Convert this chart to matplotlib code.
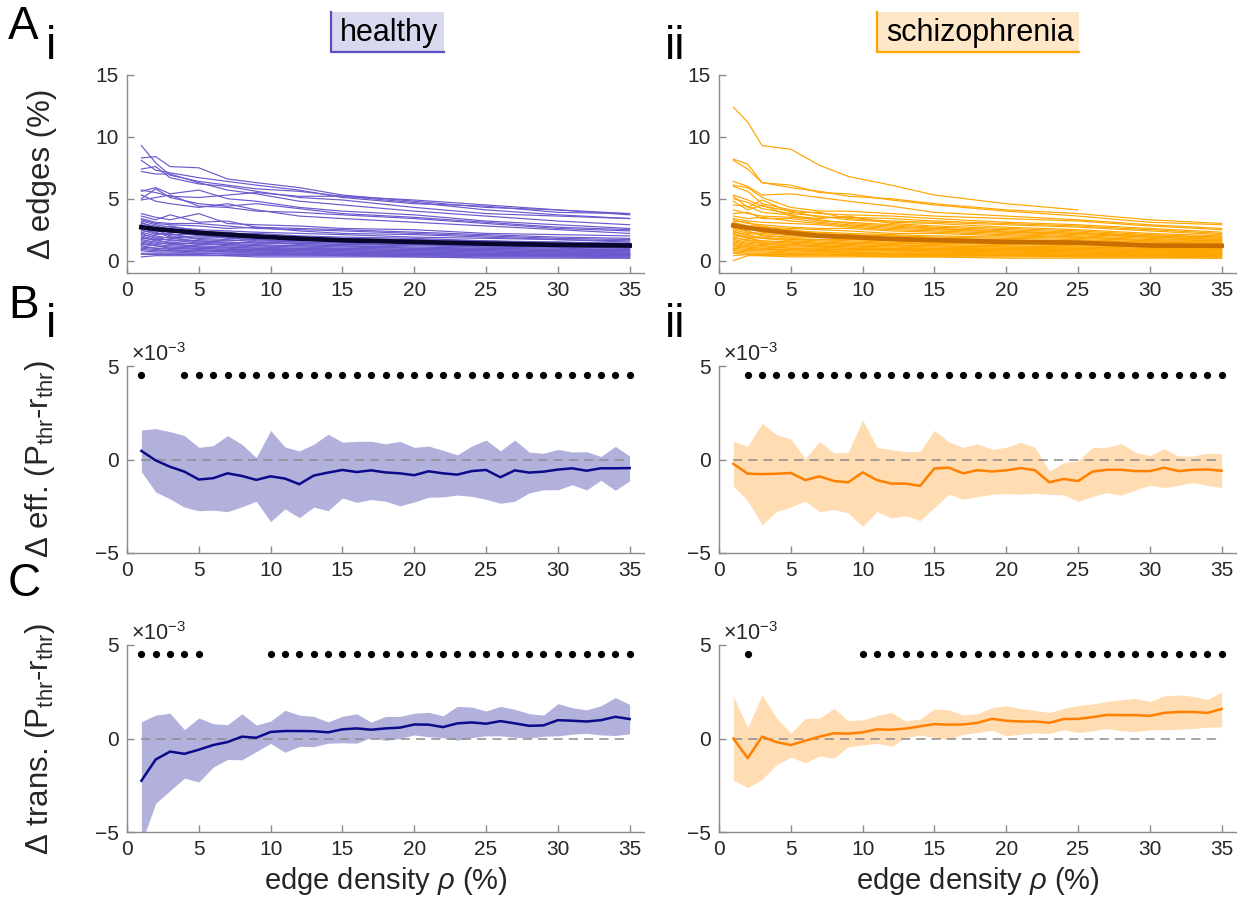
import numpy as np
import matplotlib
matplotlib.use("Agg")
import matplotlib.pyplot as plt
from matplotlib.patches import Rectangle
from matplotlib.lines import Line2D

plt.rcParams['font.family'] = ['Liberation Sans', 'DejaVu Sans']
plt.rcParams['mathtext.fontset'] = 'custom'
plt.rcParams['mathtext.rm'] = 'Liberation Sans'
plt.rcParams['mathtext.it'] = 'Liberation Sans:italic'
plt.rcParams['mathtext.bf'] = 'Liberation Sans:bold'

nan = np.nan

# ---------------- data ----------------
density = np.arange(1, 36)                       # edge density rho (%)
density_sub = [1, 2, 3, 5, 7, 9, 12, 15, 20, 25, 30, 35]

# Delta edges (%) per subject, healthy group
edges_healthy = [
    [9.3, 7.9, 6.9, 6.4, 6.1, 5.8, 5.6, 5.2, 4.9, 4.5, 4.1, 3.8],
    [8.3, 8.4, 7.6, 7.5, 6.6, 6.3, 5.9, 5.3, 4.8, 4.3, 4.1, 3.7],
    [8.1, 7.3, 7.1, 6.7, 6.4, 6.1, 5.7, 5.1, 4.6, 4.4, 3.9, 3.8],
    [7.4, 7.6, 6.7, 6.2, 6.0, 5.6, 5.1, 4.9, 4.3, 3.8, 3.6, 3.4],
    [7.2, 7.0, 7.0, 6.3, 5.7, 5.4, 4.8, 4.5, 4.0, 3.6, 3.2, 2.9],
    [5.7, 5.5, 5.2, 5.1, 5.3, 5.5, 5.2, 5.2, 4.7, 4.1, 3.7, 3.4],
    [5.6, 5.9, 5.4, 5.7, 5.0, 4.8, 4.3, 4.0, 3.7, 3.2, 2.9, 2.6],
    [5.0, 5.8, 5.1, 4.6, 4.4, 4.6, 4.2, 3.8, 3.5, 3.1, 2.7, 2.5],
    [4.9, 5.1, 5.3, 4.4, 4.3, 4.0, 3.9, 3.7, 3.4, 3.0, 2.6, 2.4],
    [5.3, 4.8, 4.6, 4.3, 4.6, 4.1, 3.6, 3.4, 3.1, 2.8, 2.5, 2.2],
    [3.8, 3.5, 3.3, 3.8, 3.0, 2.9, 2.8, 2.6, 2.5, 2.2, 2.1, 2.0],
    [3.6, 3.3, 3.7, 3.1, 3.2, 2.7, 2.6, 2.5, 2.3, 2.1, 1.9, 1.8],
    [3.4, 3.1, 3.0, 3.0, 2.8, 2.6, 2.5, 2.4, 2.2, 2.0, 1.8, 1.7],
    [3.3, 3.0, 2.9, 2.8, 2.6, 2.7, 2.4, 2.2, 2.1, 1.9, 1.7, 1.6],
    [3.2, 2.9, 2.7, 2.5, 2.4, 2.3, 2.2, 2.1, 1.9, 1.8, 1.7, 1.5],
    [3.1, 2.6, 2.8, 2.4, 2.2, 2.2, 2.0, 1.9, 1.8, 1.6, 1.5, 1.4],
    [3.0, 2.8, 2.5, 2.3, 2.3, 2.0, 1.9, 1.8, 1.7, 1.6, 1.4, 1.4],
    [2.9, 2.4, 2.3, 2.2, 2.0, 2.1, 1.8, 1.7, 1.6, 1.5, 1.5, 1.3],
    [2.8, 2.6, 2.4, 2.0, 1.9, 1.8, 1.9, 1.6, 1.5, 1.4, 1.3, 1.2],
    [2.7, 2.2, 2.1, 2.1, 1.8, 1.7, 1.6, 1.7, 1.4, 1.3, 1.3, 1.2],
    [2.6, 2.5, 2.0, 1.9, 1.9, 1.6, 1.5, 1.5, 1.5, 1.3, 1.2, 1.1],
    [2.5, 2.1, 2.2, 1.7, 1.6, 1.7, 1.5, 1.4, 1.3, 1.2, 1.1, 1.0],
    [2.4, 2.3, 1.9, 1.8, 1.7, 1.5, 1.4, 1.3, 1.3, 1.1, 1.1, 1.0],
    [2.3, 2.0, 1.8, 1.6, 1.5, 1.4, 1.4, 1.3, 1.2, 1.1, 1.0, 0.9],
    [2.2, 1.8, 1.9, 1.5, 1.4, 1.5, 1.3, 1.2, 1.1, 1.0, 0.9, 0.9],
    [2.1, 1.9, 1.6, 1.6, 1.4, 1.3, 1.2, 1.2, 1.0, 1.0, 0.9, 0.8],
    [2.0, 1.7, 1.7, 1.4, 1.3, 1.2, 1.2, 1.1, 1.0, 0.9, 0.8, 0.8],
    [1.9, 1.6, 1.5, 1.3, 1.3, 1.2, 1.1, 1.0, 0.9, 0.9, 0.8, 0.7],
    [1.8, 1.7, 1.4, 1.4, 1.2, 1.1, 1.0, 1.0, 0.9, 0.8, 0.7, 0.7],
    [1.7, 1.5, 1.3, 1.2, 1.1, 1.0, 1.0, 0.9, 0.8, 0.8, 0.7, 0.6],
    [1.6, 1.4, 1.4, 1.1, 1.1, 1.0, 0.9, 0.9, 0.8, 0.7, 0.7, 0.6],
    [1.5, 1.3, 1.2, 1.1, 1.0, 0.9, 0.9, 0.8, 0.7, 0.7, 0.6, 0.6],
    [1.4, 1.2, 1.1, 1.0, 0.9, 0.9, 0.8, 0.8, 0.7, 0.6, 0.6, 0.5],
    [1.3, 1.2, 1.0, 1.0, 0.9, 0.8, 0.8, 0.7, 0.6, 0.6, 0.5, 0.5],
    [1.2, 1.0, 1.0, 0.9, 0.8, 0.8, 0.7, 0.7, 0.6, 0.5, 0.5, 0.5],
    [1.1, 1.0, 0.9, 0.8, 0.8, 0.7, 0.7, 0.6, 0.6, 0.5, 0.5, 0.4],
    [1.0, 0.9, 0.8, 0.8, 0.7, 0.7, 0.6, 0.6, 0.5, 0.5, 0.4, 0.4],
    [0.9, 0.8, 0.8, 0.7, 0.7, 0.6, 0.6, 0.5, 0.5, 0.4, 0.4, 0.4],
    [0.8, 0.7, 0.7, 0.6, 0.6, 0.6, 0.5, 0.5, 0.4, 0.4, 0.4, 0.3],
    [0.6, 0.6, 0.6, 0.6, 0.5, 0.5, 0.5, 0.4, 0.4, 0.3, 0.3, 0.3],
    [0.5, 0.5, 0.5, 0.5, 0.4, 0.4, 0.4, 0.4, 0.3, 0.3, 0.3, 0.2],
    [0.3, 0.4, 0.4, 0.4, 0.4, 0.3, 0.3, 0.3, 0.3, 0.2, 0.2, 0.2],
]
edges_healthy_mean = [2.7, 2.55, 2.45, 2.25, 2.1, 1.95, 1.78, 1.64, 1.51, 1.37, 1.27, 1.22]

# Delta edges (%) per subject, schizophrenia group
edges_scz = [
    [12.4, 11.2, 9.3, 9.0, 7.7, 6.8, 6.1, 5.3, 4.6, 4.1, nan, nan],
    [8.2, 7.8, 6.3, 5.9, 5.6, 5.2, 5.0, 4.6, 4.1, 3.8, 3.3, 3.0],
    [8.1, 7.4, 6.3, 6.1, 5.5, 5.4, 4.9, 4.5, 4.0, 3.6, 3.1, 2.9],
    [6.4, 6.0, 5.3, 5.4, 5.1, 4.8, 4.4, 3.9, 3.6, 3.3, 2.9, 2.6],
    [6.1, 5.9, 5.1, 4.3, 4.0, 4.0, 3.8, 3.6, 3.4, 3.2, 2.8, 2.5],
    [6.0, 5.6, 4.6, 4.1, 3.8, 3.7, 3.6, 3.4, 3.1, 2.9, 2.6, 2.3],
    [5.3, 4.9, 4.4, 4.0, 3.5, 3.5, 3.4, 3.2, 3.0, 2.8, 2.5, 2.2],
    [5.2, 4.3, 4.9, 3.9, 3.9, 3.4, 3.2, 3.1, 2.9, 2.7, 2.4, 2.1],
    [5.0, 4.7, 4.2, 3.8, 3.6, 3.3, 3.1, 3.0, 2.7, 2.5, 2.2, 2.0],
    [4.8, 4.1, 4.5, 3.6, 3.4, 3.6, 3.0, 2.8, 2.6, 2.4, 2.1, 1.9],
    [4.5, 4.4, 3.9, 3.7, 3.2, 3.1, 2.9, 2.7, 2.5, 2.3, 2.0, 1.9],
    [4.1, 3.8, 3.6, 3.5, 3.3, 3.0, 2.8, 2.6, 2.4, 2.2, 2.0, 1.8],
    [3.8, 3.9, 3.4, 3.4, 3.1, 2.9, 2.7, 2.6, 2.3, 2.2, 1.9, 1.7],
    [3.6, 3.4, 3.5, 3.2, 3.0, 2.8, 2.6, 2.5, 2.3, 2.1, 1.9, 1.7],
    [3.4, 3.2, 3.1, 3.0, 2.9, 2.7, 2.5, 2.4, 2.2, 2.0, 1.8, 1.6],
    [3.3, 3.0, 2.9, 2.7, 2.6, 2.6, 2.4, 2.3, 2.1, 1.9, 1.7, 1.6],
    [3.2, 3.1, 2.7, 2.6, 2.5, 2.4, 2.2, 2.2, 2.0, 1.9, 1.6, 1.5],
    [3.1, 2.8, 2.8, 2.4, 2.3, 2.2, 2.1, 2.0, 1.9, 1.8, 1.6, 1.5],
    [3.0, 2.7, 2.5, 2.5, 2.2, 2.1, 2.0, 1.9, 1.8, 1.7, 1.5, 1.4],
    [2.9, 2.5, 2.6, 2.2, 2.1, 2.0, 2.0, 1.8, 1.7, 1.6, 1.5, 1.4],
    [2.8, 2.6, 2.3, 2.1, 2.0, 1.9, 1.8, 1.8, 1.6, 1.5, 1.4, 1.3],
    [2.7, 2.3, 2.2, 2.0, 1.9, 1.9, 1.7, 1.7, 1.6, 1.5, 1.3, 1.3],
    [2.6, 2.4, 2.0, 1.9, 1.9, 1.7, 1.7, 1.6, 1.5, 1.4, 1.3, 1.2],
    [2.5, 2.2, 2.1, 1.8, 1.7, 1.7, 1.6, 1.5, 1.4, 1.3, 1.2, 1.1],
    [2.4, 2.0, 1.9, 1.7, 1.7, 1.6, 1.5, 1.4, 1.4, 1.3, 1.2, 1.1],
    [2.3, 2.1, 1.8, 1.7, 1.6, 1.5, 1.4, 1.4, 1.3, 1.2, 1.1, 1.0],
    [2.2, 1.9, 1.8, 1.6, 1.5, 1.4, 1.4, 1.3, 1.2, 1.1, 1.0, 1.0],
    [2.1, 1.8, 1.6, 1.5, 1.4, 1.4, 1.3, 1.2, 1.1, 1.1, 1.0, 0.9],
    [2.0, 1.9, 1.5, 1.5, 1.4, 1.3, 1.2, 1.2, 1.1, 1.0, 0.9, 0.9],
    [1.9, 1.6, 1.6, 1.4, 1.3, 1.2, 1.2, 1.1, 1.0, 1.0, 0.9, 0.8],
    [1.8, 1.7, 1.4, 1.3, 1.2, 1.2, 1.1, 1.0, 1.0, 0.9, 0.8, 0.8],
    [1.7, 1.5, 1.4, 1.3, 1.2, 1.1, 1.0, 1.0, 0.9, 0.9, 0.8, 0.7],
    [1.6, 1.4, 1.3, 1.2, 1.1, 1.0, 1.0, 0.9, 0.9, 0.8, 0.7, 0.7],
    [1.5, 1.3, 1.2, 1.1, 1.1, 1.0, 0.9, 0.9, 0.8, 0.8, 0.7, 0.6],
    [1.4, 1.2, 1.2, 1.0, 1.0, 0.9, 0.9, 0.8, 0.8, 0.7, 0.6, 0.6],
    [1.3, 1.1, 1.1, 1.0, 0.9, 0.9, 0.8, 0.8, 0.7, 0.7, 0.6, 0.6],
    [1.2, 1.1, 1.0, 0.9, 0.8, 0.8, 0.8, 0.7, 0.7, 0.6, 0.6, 0.5],
    [1.1, 1.0, 0.9, 0.9, 0.8, 0.7, 0.7, 0.7, 0.6, 0.6, 0.5, 0.5],
    [1.0, 0.9, 0.9, 0.8, 0.7, 0.7, 0.6, 0.6, 0.6, 0.5, 0.5, 0.5],
    [0.9, 0.8, 0.8, 0.7, 0.7, 0.6, 0.6, 0.6, 0.5, 0.5, 0.5, 0.4],
    [0.8, 0.7, 0.7, 0.6, 0.6, 0.6, 0.5, 0.5, 0.5, 0.4, 0.4, 0.4],
    [0.7, 0.6, 0.6, 0.6, 0.5, 0.5, 0.5, 0.4, 0.4, 0.4, 0.4, 0.3],
    [0.6, 0.5, 0.5, 0.5, 0.5, 0.4, 0.4, 0.4, 0.4, 0.3, 0.3, 0.3],
    [0.4, 0.5, 0.4, 0.4, 0.4, 0.4, 0.3, 0.3, 0.3, 0.3, 0.3, 0.2],
    [0.0, 0.4, 0.4, 0.3, 0.3, 0.3, 0.3, 0.3, 0.2, 0.2, 0.2, 0.2],
]
edges_scz_mean = [2.84, 2.65, 2.5, 2.24, 2.0, 1.92, 1.75, 1.65, 1.51, 1.45, 1.22, 1.2]

# Delta efficiency (units of 1e-3): mean and band limits, healthy
eff_h_mean = [0.46, -0.05, -0.39, -0.65, -1.07, -1.0, -0.74, -0.88, -1.09, -0.9,
              -1.02, -1.32, -0.86, -0.7, -0.56, -0.67, -0.58, -0.69, -0.74, -0.84,
              -0.63, -0.74, -0.81, -0.62, -0.56, -0.95, -0.58, -0.7, -0.65, -0.54,
              -0.47, -0.6, -0.47, -0.47, -0.46]
eff_h_hi = [1.58, 1.65, 1.49, 1.28, 0.65, 0.74, 1.28, 0.81, 0.1, 1.55,
            0.67, 0.46, 0.81, 1.35, 0.93, 0.97, 0.98, 0.84, 0.97, 0.65,
            0.72, 0.49, 0.25, 0.72, 1.04, 0.46, 1.04, 0.4, 0.33, 0.54,
            0.4, 0.42, 0.16, 0.7, 0.19]
eff_h_lo = [-0.65, -1.74, -2.11, -2.55, -2.74, -2.71, -2.79, -2.53, -2.23, -3.32,
            -2.64, -3.11, -2.55, -2.74, -2.06, -2.29, -2.14, -2.23, -2.48, -2.27,
            -2.02, -2.0, -1.9, -1.97, -2.13, -2.34, -2.23, -1.79, -1.62, -1.62,
            -1.35, -1.63, -1.11, -1.65, -1.14]

# Delta efficiency (units of 1e-3), schizophrenia
eff_s_mean = [-0.23, -0.76, -0.78, -0.76, -0.72, -1.1, -0.9, -1.15, -1.22, -0.69,
              -1.1, -1.29, -1.29, -1.41, -0.48, -0.44, -0.74, -0.57, -0.64, -0.58,
              -0.46, -0.57, -1.22, -1.04, -1.15, -0.65, -0.55, -0.55, -0.62, -0.62,
              -0.44, -0.62, -0.55, -0.53, -0.6]
eff_s_hi = [0.97, 0.71, 1.94, 1.33, 1.1, 0.04, 0.97, 0.35, 0.39, 2.12,
            0.65, 0.53, 0.41, 0.44, 1.55, 0.95, 0.65, 0.83, 0.55, 0.65,
            0.92, 0.65, -0.62, -0.18, -0.07, 0.64, 0.65, 0.85, 0.39, 0.21,
            0.58, 0.18, 0.18, 0.34, 0.32]
eff_s_lo = [-1.41, -2.21, -3.48, -2.79, -2.54, -2.23, -2.78, -2.67, -2.86, -3.57,
            -2.79, -3.13, -3.0, -3.27, -2.56, -1.86, -2.12, -1.98, -1.86, -1.82,
            -1.86, -1.8, -1.86, -1.89, -2.24, -1.98, -1.77, -1.91, -1.63, -1.38,
            -1.5, -1.38, -1.24, -1.38, -1.5]

# Delta transitivity (units of 1e-3), healthy
trans_h_mean = [-2.26, -1.12, -0.7, -0.82, -0.6, -0.35, -0.19, 0.1, 0.04, 0.35,
                0.4, 0.4, 0.39, 0.33, 0.49, 0.54, 0.47, 0.54, 0.58, 0.75,
                0.74, 0.61, 0.81, 0.86, 0.79, 0.93, 0.81, 0.68, 0.7, 0.98,
                0.95, 0.91, 0.98, 1.16, 1.04]
trans_h_hi = [0.89, 1.25, 1.35, 0.47, 1.1, 0.79, 0.74, 1.32, 0.72, 0.93,
              1.51, 1.25, 1.18, 0.89, 1.19, 1.32, 0.88, 1.18, 1.18, 1.35,
              1.4, 1.21, 1.72, 1.68, 1.47, 1.72, 1.56, 1.33, 1.25, 1.86,
              1.65, 1.53, 1.75, 2.19, 1.82]
trans_h_lo = [-5.6, -3.46, -2.79, -2.12, -2.33, -1.53, -1.12, -1.14, -0.7, -0.26,
              -0.74, -0.42, -0.44, -0.25, -0.23, -0.25, 0.05, -0.1, 0.0, 0.19,
              0.09, 0.05, -0.09, 0.05, 0.14, 0.14, 0.07, 0.02, 0.12, 0.14,
              0.23, 0.28, 0.19, 0.16, 0.25]

# Delta transitivity (units of 1e-3), schizophrenia
trans_s_mean = [0.0, -1.05, 0.1, -0.19, -0.35, -0.12, 0.1, 0.28, 0.26, 0.33,
                0.49, 0.47, 0.53, 0.65, 0.77, 0.74, 0.75, 0.84, 1.05, 0.95,
                0.91, 0.91, 0.84, 1.04, 1.05, 1.14, 1.26, 1.25, 1.25, 1.21,
                1.37, 1.42, 1.42, 1.37, 1.58]
trans_s_hi = [2.25, 0.58, 2.33, 1.1, 0.28, 1.07, 1.09, 1.61, 0.96, 1.0,
              1.23, 1.4, 0.93, 1.05, 1.58, 1.53, 1.26, 1.33, 1.65, 1.75,
              1.6, 1.51, 1.39, 1.6, 1.77, 1.84, 1.98, 2.07, 2.14, 1.98,
              2.28, 2.33, 2.26, 2.09, 2.47]
trans_s_lo = [-2.23, -2.63, -2.19, -1.4, -1.0, -1.3, -0.93, -1.05, -0.44, -0.35,
              -0.26, -0.42, 0.05, 0.18, 0.05, -0.04, 0.23, 0.32, 0.44, 0.14,
              0.23, 0.3, 0.26, 0.47, 0.32, 0.4, 0.53, 0.42, 0.37, 0.46,
              0.47, 0.49, 0.54, 0.6, 0.63]

# densities marked as significant
sig_eff_h = [1] + list(range(4, 36))
sig_eff_s = list(range(2, 36))
sig_trans_h = [1, 2, 3, 4, 5] + list(range(10, 36))
sig_trans_s = [2] + list(range(10, 36))

group_titles = ["healthy", "schizophrenia"]

# ---------------- style ----------------
C_H_LINE = "#6a5acd"
C_H_MEAN = "#07072e"
C_H_FILL = "#b1b1dc"
C_H_DARK = "#0a0a8a"
C_S_LINE = "#ffa500"
C_S_MEAN = "#c86f00"
C_S_FILL = "#ffdcb1"
C_S_DARK = "#ff8000"
AX_GREY = "#8a8a8a"
TXT = "#262626"

W, H = 1245, 900
fig = plt.figure(figsize=(W / 100, H / 100), dpi=100)


def fx(px):
    return px / W


def fy(py):
    return 1 - py / H


cols = [(127, 644), (719, 1236)]
rows = [(75, 273), (366, 553), (645, 832)]

axes = {}
for r, (top, bot) in enumerate(rows):
    for c, (left, right) in enumerate(cols):
        ax = fig.add_axes([fx(left), fy(bot), fx(right - left), (bot - top) / H])
        axes[(r, c)] = ax


def style(ax, yticks, ylim):
    ax.set_xlim(0, 36)
    ax.set_ylim(*ylim)
    ax.set_xticks([0, 5, 10, 15, 20, 25, 30, 35])
    ax.set_yticks(yticks)
    for s in ("top", "right"):
        ax.spines[s].set_visible(False)
    for s in ("left", "bottom"):
        ax.spines[s].set_color(AX_GREY)
        ax.spines[s].set_linewidth(1.0)
    ax.tick_params(direction="in", length=5, width=1.0, color=AX_GREY,
                   labelsize=15, labelcolor=TXT, pad=6)
    ax.set_facecolor("none")


# Row A: per-subject edge differences
for c, (lines, mean, lc, mc) in enumerate([
        (edges_healthy, edges_healthy_mean, C_H_LINE, C_H_MEAN),
        (edges_scz, edges_scz_mean, C_S_LINE, C_S_MEAN)]):
    ax = axes[(0, c)]
    for ln in lines:
        ax.plot(density_sub, ln, color=lc, lw=0.85, solid_joinstyle="miter")
    ax.plot(density_sub, mean, color=mc, lw=3.4)
    style(ax, [0, 5, 10, 15], (-1, 15))

# Rows B and C: mean with band and significance markers
panels = [
    (1, 0, eff_h_mean, eff_h_lo, eff_h_hi, sig_eff_h, C_H_FILL, C_H_DARK),
    (1, 1, eff_s_mean, eff_s_lo, eff_s_hi, sig_eff_s, C_S_FILL, C_S_DARK),
    (2, 0, trans_h_mean, trans_h_lo, trans_h_hi, sig_trans_h, C_H_FILL, C_H_DARK),
    (2, 1, trans_s_mean, trans_s_lo, trans_s_hi, sig_trans_s, C_S_FILL, C_S_DARK),
]
for r, c, m, lo, hi, sig, fc, lc in panels:
    ax = axes[(r, c)]
    ax.fill_between(density, lo, hi, color=fc, lw=0)
    ax.plot([1, 35], [0, 0], color="#8c8c8c", lw=1.1, dashes=(6, 4), zorder=3)
    ax.plot(density, m, color=lc, lw=1.8, zorder=4)
    ax.plot(sig, [4.5] * len(sig), ls="none", marker="o", ms=4.2, color="black",
            zorder=5)
    style(ax, [-5, 0, 5], (-5, 5))
    ax.text(0.008, 1.0, r"$\times$10$^{\mathregular{-3}}$", transform=ax.transAxes,
            ha="left", va="bottom", fontsize=15.5, color=TXT)

# axis labels
YLAB = 22.5
axes[(0, 0)].set_ylabel("Δ edges (%)", fontsize=YLAB, color=TXT)
axes[(1, 0)].set_ylabel(r"Δ eff. (P$_{\mathregular{thr}}$-r$_{\mathregular{thr}}$)",
                        fontsize=YLAB, color=TXT)
axes[(2, 0)].set_ylabel(r"Δ trans. (P$_{\mathregular{thr}}$-r$_{\mathregular{thr}}$)",
                        fontsize=YLAB, color=TXT)
for r in range(3):
    axes[(r, 0)].yaxis.set_label_coords(-0.135, 0.5)
for c in range(2):
    axes[(2, c)].set_xlabel(r"edge density $\rho$ (%)", fontsize=21, color=TXT,
                            labelpad=4)

# panel letters and numerals
LET = 33
fig.text(fx(8), fy(39), "A", fontsize=LET, color="black")
fig.text(fx(46), fy(59), "i", fontsize=LET, color="black")
fig.text(fx(665), fy(59), "ii", fontsize=LET, color="black")
fig.text(fx(8), fy(318), "B", fontsize=LET, color="black")
fig.text(fx(46), fy(337), "i", fontsize=LET, color="black")
fig.text(fx(665), fy(337), "ii", fontsize=LET, color="black")
fig.text(fx(8), fy(596), "C", fontsize=LET, color="black")

# group title boxes
for (l, t, r_, b), label, face, edge in [
        ((331, 12, 444, 52), group_titles[0], "#d8d8ee", "#5a4fc4"),
        ((877, 12, 1079, 52), group_titles[1], "#fde7c6", "#ffa500")]:
    fig.patches.append(Rectangle((fx(l), fy(b)), fx(r_ - l), (b - t) / H,
                                 transform=fig.transFigure, facecolor=face,
                                 edgecolor="none"))
    fig.lines.append(Line2D([fx(l), fx(l), fx(r_)], [fy(t), fy(b), fy(b)],
                            transform=fig.transFigure, color=edge, lw=1.6))
    fig.text(fx((l + r_) / 2 + 2), fy((t + b) / 2 + 1), label, ha="center",
             va="center", fontsize=22, color="black")

fig.savefig("out.png", dpi=100)
